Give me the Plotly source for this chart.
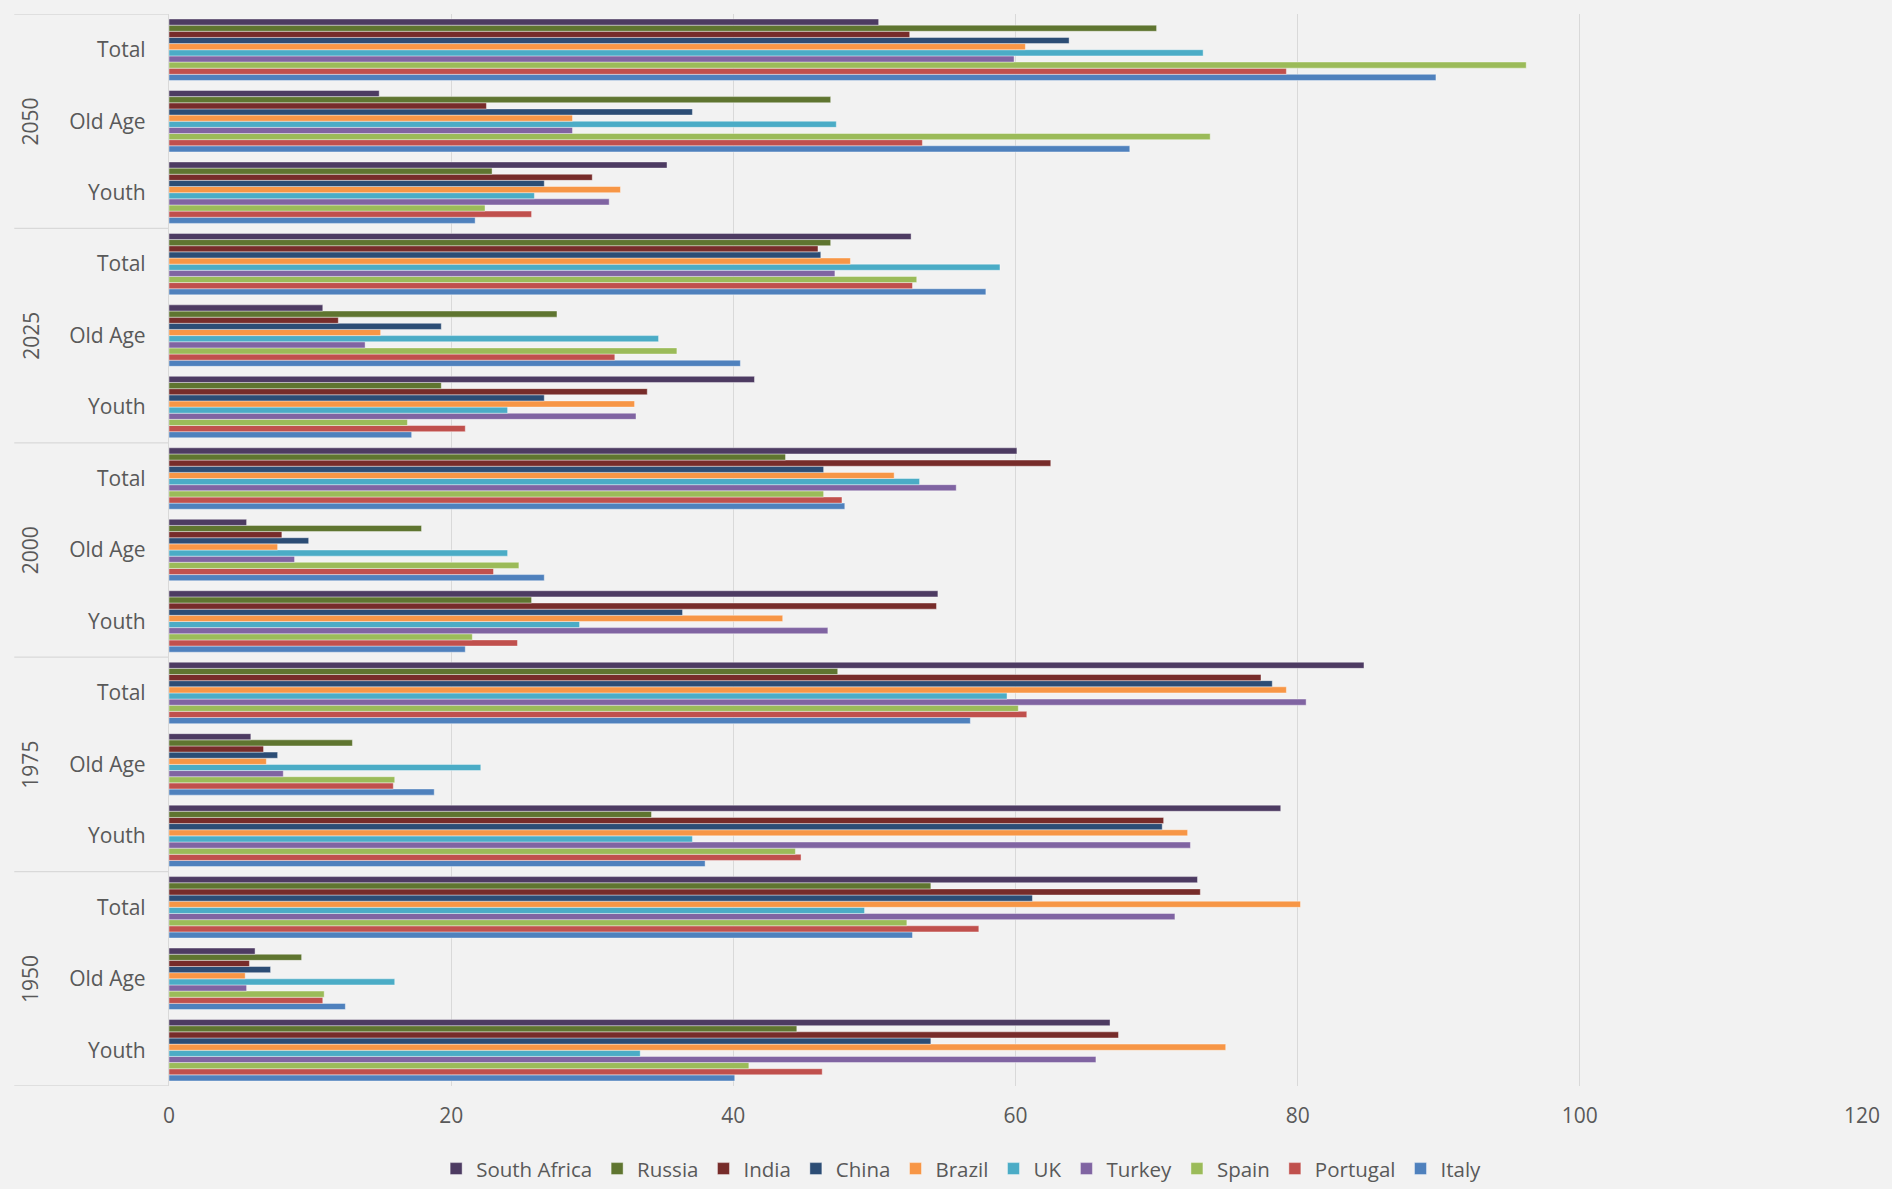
import plotly.graph_objects as go

years = ["1950", "1975", "2000", "2025", "2050"]
groups = ["Youth", "Old Age", "Total"]

# values in order: 1950 Youth, Old Age, Total, 1975 Youth, ..., 2050 Total
south_africa = [66.7, 6.1, 72.9, 78.8, 5.8, 84.7, 54.5, 5.5, 60.1, 41.5, 10.9, 52.6, 35.3, 14.9, 50.3]
russia = [44.5, 9.4, 54.0, 34.2, 13.0, 47.4, 25.7, 17.9, 43.7, 19.3, 27.5, 46.9, 22.9, 46.9, 70.0]
india = [67.3, 5.7, 73.1, 70.5, 6.7, 77.4, 54.4, 8.0, 62.5, 33.9, 12.0, 46.0, 30.0, 22.5, 52.5]
china = [54.0, 7.2, 61.2, 70.4, 7.7, 78.2, 36.4, 9.9, 46.4, 26.6, 19.3, 46.2, 26.6, 37.1, 63.8]
brazil = [74.9, 5.4, 80.2, 72.2, 6.9, 79.2, 43.5, 7.7, 51.4, 33.0, 15.0, 48.3, 32.0, 28.6, 60.7]
uk = [33.4, 16.0, 49.3, 37.1, 22.1, 59.4, 29.1, 24.0, 53.2, 24.0, 34.7, 58.9, 25.9, 47.3, 73.3]
turkey = [65.7, 5.5, 71.3, 72.4, 8.1, 80.6, 46.7, 8.9, 55.8, 33.1, 13.9, 47.2, 31.2, 28.6, 59.9]
spain = [41.1, 11.0, 52.3, 44.4, 16.0, 60.2, 21.5, 24.8, 46.4, 16.9, 36.0, 53.0, 22.4, 73.8, 96.2]
portugal = [46.3, 10.9, 57.4, 44.8, 15.9, 60.8, 24.7, 23.0, 47.7, 21.0, 31.6, 52.7, 25.7, 53.4, 79.2]
italy = [40.1, 12.5, 52.7, 38.0, 18.8, 56.8, 21.0, 26.6, 47.9, 17.2, 40.5, 57.9, 21.7, 68.1, 89.8]

x_ticks = [0, 20, 40, 60, 80, 100, 120]

# drawn bottom-to-top within each group: Italy first
series = [
    ("Italy", italy, "#4F81BD"),
    ("Portugal", portugal, "#C0504D"),
    ("Spain", spain, "#9BBB59"),
    ("Turkey", turkey, "#8064A2"),
    ("UK", uk, "#4BACC6"),
    ("Brazil", brazil, "#F79646"),
    ("China", china, "#2C4D75"),
    ("India", india, "#772C2A"),
    ("Russia", russia, "#5F7530"),
    ("South Africa", south_africa, "#4D3B62"),
]

n_cat = len(years) * len(groups)
y_pos = list(range(n_cat))
tick_text = [g for _ in years for g in groups]

TXT = "#595959"
FONT = "Open Sans"

fig = go.Figure()
for name, vals, col in series:
    fig.add_trace(go.Bar(
        x=vals, y=y_pos, name=name, orientation="h",
        marker=dict(color=col, line=dict(color="rgba(255,255,255,0.5)", width=0.8)),
    ))

# divider lines between year groups (left of plot)
left_px = 169
span_px = 1696
x_div = (14 - left_px) / span_px
shapes = []
for k in range(len(years) + 1):
    yb = k * len(groups) - 0.5
    shapes.append(dict(type="line", xref="paper", yref="y", x0=x_div, x1=0,
                       y0=yb, y1=yb, line=dict(color="#d9d9d9", width=1.3)))

annotations = []
for k, yr in enumerate(years):
    annotations.append(dict(
        text=yr, xref="paper", yref="y", x=(30 - left_px) / span_px,
        y=k * len(groups) + 1, showarrow=False, textangle=-90,
        font=dict(family=FONT, size=21, color=TXT),
        xanchor="center", yanchor="middle",
    ))

fig.update_layout(
    width=1892, height=1189,
    paper_bgcolor="#f2f2f2", plot_bgcolor="#f2f2f2",
    margin=dict(l=169, r=27, t=14, b=103),
    barmode="group", bargap=0.14, bargroupgap=0,
    font=dict(family=FONT, size=21, color=TXT),
    shapes=shapes, annotations=annotations,
    legend=dict(
        orientation="h", traceorder="reversed",
        xref="container", yref="container",
        x=0.508, xanchor="center", y=0.017, yanchor="middle",
        font=dict(family=FONT, size=20.5, color=TXT),
        bgcolor="rgba(0,0,0,0)",
    ),
    xaxis=dict(
        range=[0, 120], tickvals=x_ticks, showgrid=True, gridcolor="#d9d9d9",
        gridwidth=1.3, zeroline=False, showline=False,
        tickfont=dict(family=FONT, size=21, color=TXT), ticklabelstandoff=15,
        fixedrange=True,
    ),
    yaxis=dict(
        range=[-0.5, n_cat - 0.5], tickvals=y_pos, ticktext=tick_text,
        showgrid=False, zeroline=False, showline=True, linecolor="#d9d9d9",
        linewidth=1.3, ticks="", ticklabelstandoff=18,
        tickfont=dict(family=FONT, size=21, color=TXT),
    ),
)

fig.write_html("out.html")
